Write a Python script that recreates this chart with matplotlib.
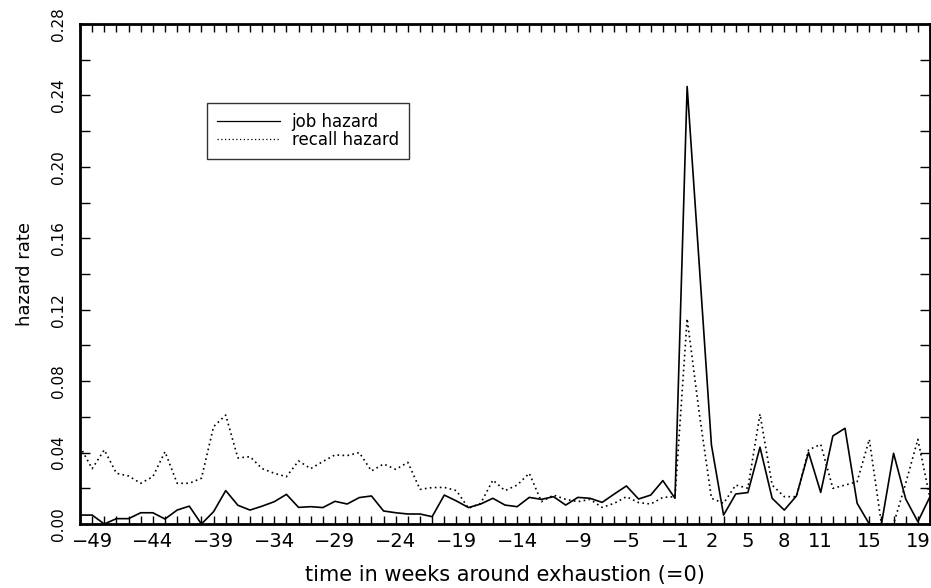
import matplotlib
matplotlib.use("Agg")
import matplotlib.pyplot as plt
from matplotlib.ticker import MultipleLocator, FixedLocator

weeks = list(range(-50, 21))

job_hazard = [
    0.005, 0.005, 0.0, 0.003, 0.003, 0.0063, 0.0063, 0.0028, 0.0078, 0.010,
    0.0, 0.0069, 0.0187, 0.0105, 0.0078, 0.010, 0.0125, 0.0166, 0.0093, 0.0097,
    0.0092, 0.0127, 0.0112, 0.0148, 0.0157, 0.0073, 0.0063, 0.0056, 0.0056, 0.0041,
    0.0162, 0.0129, 0.0092, 0.0112, 0.0144, 0.0106, 0.0097, 0.0149, 0.0138, 0.0153,
    0.0106, 0.0149, 0.0144, 0.0121, 0.0168, 0.0213, 0.014, 0.0162, 0.0243, 0.0144,
    0.245, 0.145, 0.0443, 0.005, 0.0168, 0.0176, 0.043, 0.0144, 0.0078, 0.0157,
    0.0401, 0.0177, 0.0493, 0.0536, 0.0116, 0.0, 0.0, 0.0396, 0.014, 0.0013,
    0.0153,
]

recall_hazard = [
    0.0433, 0.031, 0.0415, 0.0284, 0.0269, 0.0228, 0.0265, 0.0405, 0.0228, 0.0228,
    0.0256, 0.0545, 0.061, 0.037, 0.0377, 0.031, 0.0284, 0.0265, 0.0353, 0.031,
    0.035, 0.0387, 0.0383, 0.040, 0.0297, 0.0336, 0.0306, 0.0345, 0.0194, 0.0204,
    0.0205, 0.0187, 0.0088, 0.0116, 0.0246, 0.0187, 0.0218, 0.0284, 0.0125, 0.0162,
    0.0138, 0.0125, 0.0138, 0.0093, 0.0116, 0.0153, 0.012, 0.0112, 0.0149, 0.0153,
    0.115, 0.062, 0.0144, 0.0116, 0.0218, 0.020, 0.0616, 0.0218, 0.0153, 0.0153,
    0.0415, 0.0446, 0.020, 0.0218, 0.0237, 0.0474, 0.0, 0.0, 0.0228, 0.0474,
    0.0144,
]

xtick_positions = [-49, -44, -39, -34, -29, -24, -19, -14, -9, -5, -1, 2, 5, 8, 11, 15, 19]
xtick_labels = ["\u221249", "\u221244", "\u221239", "\u221234", "\u221229", "\u221224",
                "\u221219", "\u221214", "\u22129", "\u22125", "\u22121",
                "2", "5", "8", "11", "15", "19"]
ytick_positions = [0.0, 0.04, 0.08, 0.12, 0.16, 0.20, 0.24, 0.28]
ytick_labels = ["0.00", "0.04", "0.08", "0.12", "0.16", "0.20", "0.24", "0.28"]

plt.rcParams['font.family'] = ['DejaVu Sans']

fig = plt.figure(figsize=(9.31, 5.88), dpi=100)
ax = fig.add_axes([80/931, 1 - 524/588, 850/931, 500/588])

ax.plot(weeks, job_hazard, color='black', lw=1.2, ls='-', label='job hazard')
ax.plot(weeks, recall_hazard, color='black', lw=1.2, ls=(0, (1, 2)), label='recall hazard')

ax.set_xlim(-50, 20)
ax.set_ylim(0, 0.28)

ax.xaxis.set_major_locator(FixedLocator(xtick_positions))
ax.set_xticklabels(xtick_labels, fontsize=14)
ax.xaxis.set_minor_locator(MultipleLocator(1))
ax.set_yticks(ytick_positions)
ax.set_yticklabels(ytick_labels, fontsize=11, rotation=90, va='center')
ax.yaxis.set_minor_locator(MultipleLocator(0.02))

ax.tick_params(axis='x', which='both', direction='in', length=6, width=1.0,
               top=True, bottom=True, pad=6)
ax.tick_params(axis='y', which='both', direction='in', length=7, width=1.0,
               left=True, right=True, pad=10)

for sp in ax.spines.values():
    sp.set_linewidth(2.0)

ax.set_xlabel('time in weeks around exhaustion (=0)', fontsize=15, labelpad=10)
ax.set_ylabel('hazard rate', fontsize=13, labelpad=12)

leg = ax.legend(loc='upper left', bbox_to_anchor=(0.149, 0.842), frameon=True,
                fancybox=False, edgecolor='black', fontsize=12, handlelength=3.8,
                handletextpad=0.7, borderpad=0.6, labelspacing=0.0, borderaxespad=0)
leg.get_frame().set_linewidth(1.0)
for ln in leg.get_lines():
    ln.set_linewidth(0.9)

fig.savefig('out.png', dpi=100)
